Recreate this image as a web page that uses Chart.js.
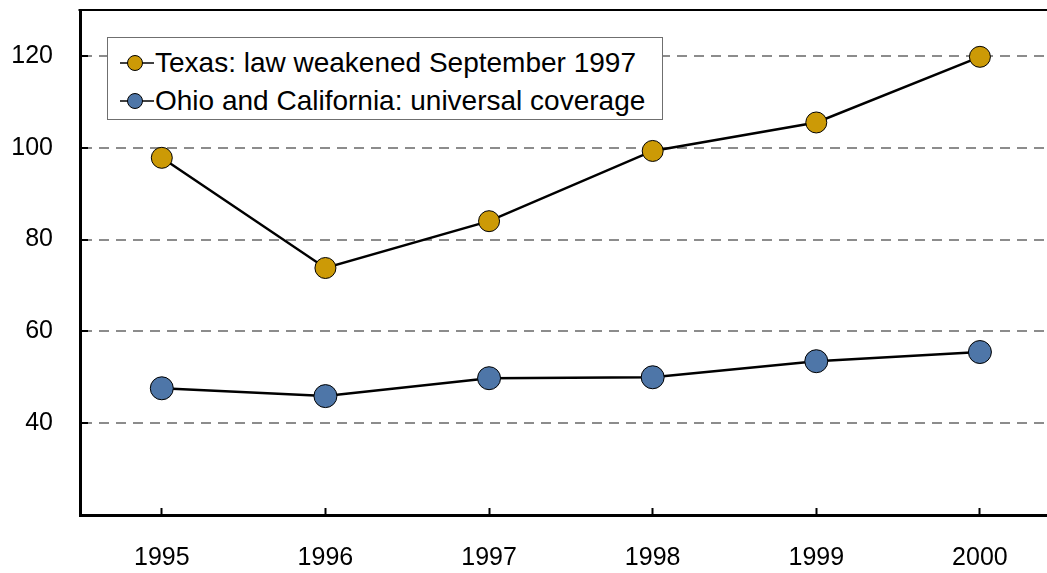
<!DOCTYPE html>
<html><head><meta charset="utf-8">
<script src="https://cdn.jsdelivr.net/npm/chart.js@4"></script>
<style>
html,body{margin:0;padding:0;background:#fff;overflow:hidden}
#wrap{position:relative;width:1047px;height:573px}
#legend{position:absolute;left:107px;top:37px;width:556px;height:83px;border:1px solid #6f6f6f;background:#fff;box-sizing:border-box;font-family:"Liberation Sans",Arial,sans-serif;font-size:28px;color:#000}
.item{position:absolute;left:12px;height:36px;display:flex;align-items:center;white-space:nowrap}
.item svg{display:block;margin-right:1px}
</style></head>
<body><div id="wrap"><canvas id="c" width="1047" height="573"></canvas><div id="legend"></div></div>
<script>
const years = [1995, 1996, 1997, 1998, 1999, 2000];
const yTicks = [40, 60, 80, 100, 120];
const texas = [97.8, 73.8, 84.0, 99.3, 105.5, 119.8];
const ohio = [47.6, 45.9, 49.8, 50.0, 53.5, 55.5];
const seriesNames = ["Texas: law weakened September 1997", "Ohio and California: universal coverage"];
const seriesColors = ["#CC9A06", "#4E76A8"];

const FONT = '"Liberation Sans", Arial, sans-serif';
const toPts = arr => years.map((y, i) => ({x: y, y: arr[i]}));

const topBorder = {
  id: 'topBorder',
  afterDraw(chart) {
    const {ctx, chartArea: a} = chart;
    ctx.save();
    ctx.strokeStyle = '#000';
    ctx.lineWidth = 2;
    ctx.beginPath();
    ctx.moveTo(a.left - 1.5, a.top);
    ctx.lineTo(a.right, a.top);
    ctx.stroke();
    ctx.restore();
  }
};

const chart = new Chart(document.getElementById('c'), {
  type: 'line',
  data: {
    datasets: [
      {label: seriesNames[0], data: toPts(texas), borderColor: '#000', borderWidth: 2.5,
       pointBackgroundColor: seriesColors[0], pointBorderColor: '#000', pointBorderWidth: 1,
       pointRadius: 10.5, pointHoverRadius: 10.5, tension: 0},
      {label: seriesNames[1], data: toPts(ohio), borderColor: '#000', borderWidth: 2.5,
       pointBackgroundColor: seriesColors[1], pointBorderColor: '#000', pointBorderWidth: 1,
       pointRadius: 11.5, pointHoverRadius: 11.5, tension: 0}
    ]
  },
  plugins: [topBorder],
  options: {
    responsive: false,
    animation: false,
    devicePixelRatio: 1,
    layout: {padding: {top: 10, right: 0, left: 0, bottom: 0}, autoPadding: false},
    plugins: {legend: {display: false}, tooltip: {enabled: false}},
    scales: {
      x: {
        type: 'linear', position: 'bottom', min: 1994.5, max: 2000.41,
        afterBuildTicks: s => { s.ticks = years.map(v => ({value: v})); },
        afterFit: s => { s.height = 58; s.paddingLeft = 0; s.paddingRight = 0; },
        ticks: {color: '#000', font: {family: FONT, size: 25}, padding: 35, callback: v => String(v), maxRotation: 0, autoSkip: false},
        grid: {drawOnChartArea: false, drawTicks: true, tickLength: -7, tickColor: '#000', tickWidth: 2},
        border: {display: true, color: '#000', width: 3}
      },
      y: {
        min: 20, max: 130,
        afterBuildTicks: s => { s.ticks = yTicks.map(v => ({value: v})); },
        afterFit: s => { s.width = 80; s.paddingTop = 0; s.paddingBottom = 0; },
        ticks: {color: '#000', font: {family: FONT, size: 25}, padding: 35},
        grid: {color: '#8c8c8c', lineWidth: 2, drawTicks: true, tickLength: -8, tickColor: '#000', tickWidth: 2},
        border: {display: true, color: '#000', width: 3, dash: [10, 7]}
      }
    }
  }
});

// HTML legend built from the datasets
const leg = document.getElementById('legend');
chart.data.datasets.forEach((ds, i) => {
  const it = document.createElement('div');
  it.className = 'item';
  it.style.top = (i === 0 ? 7 : 45) + 'px';
  it.innerHTML = '<svg width="34" height="20"><line x1="0" y1="10" x2="34" y2="10" stroke="#000" stroke-width="1.5"/>' +
    '<circle cx="15" cy="10" r="7.5" fill="' + ds.pointBackgroundColor + '" stroke="#000" stroke-width="1"/></svg>' +
    '<span>' + ds.label + '</span>';
  leg.appendChild(it);
});
</script>
</body></html>
